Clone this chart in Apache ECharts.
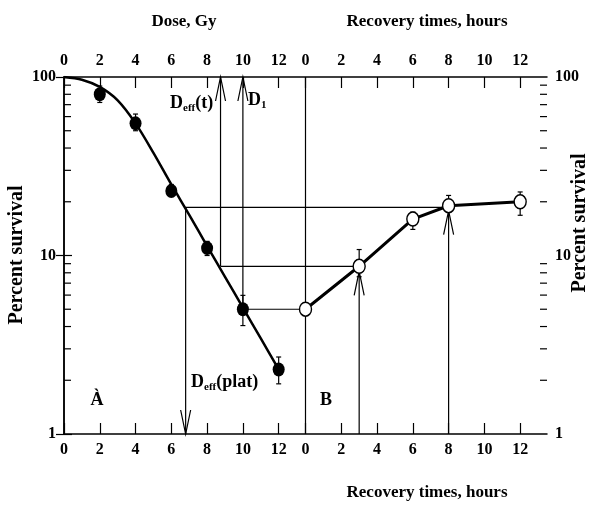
<!DOCTYPE html>
<html>
<head>
<meta charset="utf-8">
<script src="https://cdn.jsdelivr.net/npm/echarts@6/dist/echarts.min.js"></script>
<style>
  html, body { margin: 0; padding: 0; background: #fff; }
  #chart { width: 589px; height: 505px; }
</style>
</head>
<body>
<div id="chart"></div>
<script>
// recovery hour 0 sits at this position on the shared x scale
const REC_OFFSET = 13.5;

const doseGy = [2, 4, 6, 8, 10, 12];
const doseSurvival = [80, 55, 23, 11, 5, 2.3];
const doseErrLow = [72, 50, 21.5, 10, 4.05, 1.91];
const doseErrHigh = [89, 62, 25, 12, 5.98, 2.7];

const recHours = [0, 3, 6, 8, 12];
const recSurvival = [5, 8.7, 16, 19, 20];
const recErrLow = [4.7, 7.6, 14, 17.5, 16.8];
const recErrHigh = [5.3, 10.8, 17.5, 21.7, 22.7];

const fitDose = [0, 1, 2, 3, 4, 5, 6, 7, 8, 9, 10, 11, 12];
const fitSurvival = [100, 96.6, 88, 74, 55, 37.6, 25, 16.9, 11.3, 7.6, 5.1, 3.43, 2.3];

const tickLabels = [0, 2, 4, 6, 8, 10, 12];
const minorTickVals = [2, 3, 4, 5, 6, 7, 8, 9, 20, 30, 40, 50, 60, 70, 80, 90];

// reference levels
const plateauLevel = 18.6;
const tLevel = 8.7;
const deffPlat = 6.8;
const deffT = 8.75;
const d1 = 10;

const FONT = 'Liberation Serif';
const xTicks = tickLabels.concat(tickLabels.map(v => v + REC_OFFSET));
const fmtX = v => (v > 12.5 ? v - REC_OFFSET : v);

// [x1, y1, x2, y2, arrow at end, gap before tip]
const guides = [
    [deffPlat, plateauLevel, REC_OFFSET + 8, plateauLevel, 0, 0],
    [deffPlat, plateauLevel, deffPlat, 1, 1, 0],
    [REC_OFFSET + 8, 1, REC_OFFSET + 8, 19, 1, 5],
    [deffT, tLevel, REC_OFFSET + 3, tLevel, 0, 0],
    [deffT, tLevel, deffT, 100, 1, 0],
    [REC_OFFSET + 3, 1, REC_OFFSET + 3, 8.7, 1, 5],
    [d1, 5, d1, 100, 1, 0],
    [d1, 5, REC_OFFSET, 5, 0, 0],
    [REC_OFFSET, 1, REC_OFFSET, 100, 0, 0]
];

const errData = doseGy.map((d, i) => [d, doseErrLow[i], doseErrHigh[i]])
    .concat(recHours.map((t, i) => [t + REC_OFFSET, recErrLow[i], recErrHigh[i]]));

const minorData = [];
minorTickVals.forEach(v => {
    minorData.push([0, v, 1]);
    minorData.push([27, v, -1]);
});

const labelStyle = {
    color: '#000',
    fontFamily: FONT,
    fontWeight: 'bold',
    fontSize: 16
};

const xAxisBase = {
    type: 'value',
    min: 0,
    max: 27,
    axisLine: { lineStyle: { color: '#000', width: 1.5 } },
    axisTick: { inside: true, length: 11, customValues: xTicks, lineStyle: { color: '#000', width: 1.2 } },
    axisLabel: Object.assign({ customValues: xTicks, formatter: fmtX, margin: 8 }, labelStyle),
    splitLine: { show: false }
};

const yAxisBase = {
    type: 'log',
    logBase: 10,
    min: 1,
    max: 100,
    axisLine: { show: true, lineStyle: { color: '#000', width: 1.5 } },
    axisTick: { inside: true, length: 8, lineStyle: { color: '#000', width: 1.2 } },
    axisLabel: Object.assign({ margin: 8 }, labelStyle),
    splitLine: { show: false }
};

const chart = echarts.init(document.getElementById('chart'), null, { renderer: 'canvas' });

const subText = (x, y, main, sub, tail) => ({
    type: 'text',
    left: x,
    top: y,
    style: {
        text: '{m|' + main + '}' + (sub ? '{s|' + sub + '}' : '') + (tail ? '{m|' + tail + '}' : ''),
        rich: {
            m: { fontFamily: FONT, fontWeight: 'bold', fontSize: 18, fill: '#000' },
            s: { fontFamily: FONT, fontWeight: 'bold', fontSize: 11, fill: '#000', padding: [11, 0, 0, 0] }
        }
    }
});

const plainText = (x, y, text, size, rot) => ({
    type: 'text',
    x: x,
    y: y,
    rotation: rot || 0,
    style: {
        text: text,
        fontFamily: FONT,
        fontWeight: 'bold',
        fontSize: size,
        fill: '#000',
        align: 'center',
        verticalAlign: 'middle'
    }
});

const option = {
    animation: false,
    backgroundColor: '#fff',
    grid: { left: 64, right: 42, top: 77, bottom: 71, containLabel: false, outerBoundsMode: 'none' },
    xAxis: [
        Object.assign({ position: 'bottom' }, xAxisBase),
        Object.assign({ position: 'top' }, xAxisBase)
    ],
    yAxis: [
        Object.assign({ position: 'left' }, yAxisBase),
        Object.assign({ position: 'right' }, yAxisBase)
    ],
    graphic: [
        plainText(184, 22, 'Dose, Gy', 17),
        plainText(427, 22, 'Recovery times, hours', 17),
        plainText(427, 493, 'Recovery times, hours', 17),
        plainText(17, 255, 'Percent survival', 20, Math.PI / 2),
        plainText(580, 223, 'Percent survival', 20, Math.PI / 2),
        plainText(97, 400, 'À', 18),
        plainText(326, 400, 'B', 18),
        subText(170, 94, 'D', 'eff', '(t)'),
        subText(248, 91, 'D', '1', ''),
        subText(191, 373, 'D', 'eff', '(plat)')
    ],
    series: [
        {
            name: 'minor ticks',
            type: 'custom',
            silent: true,
            data: minorData,
            encode: { x: 0, y: 1 },
            renderItem: (params, api) => {
                const p = api.coord([api.value(0), api.value(1)]);
                const dir = api.value(2);
                return {
                    type: 'line',
                    shape: { x1: p[0], y1: p[1], x2: p[0] + dir * 7, y2: p[1] },
                    style: { stroke: '#000', lineWidth: 1.2 }
                };
            }
        },
        {
            name: 'guides',
            type: 'custom',
            silent: true,
            data: guides,
            encode: { x: [0, 2], y: [1, 3] },
            renderItem: (params, api) => {
                const a = api.coord([api.value(0), api.value(1)]);
                const b = api.coord([api.value(2), api.value(3)]);
                const gap = api.value(5);
                const dx = b[0] - a[0], dy = b[1] - a[1];
                const len = Math.hypot(dx, dy) || 1;
                const ux = dx / len, uy = dy / len;
                const tip = [b[0] - ux * gap, b[1] - uy * gap];
                const children = [{
                    type: 'line',
                    shape: { x1: a[0], y1: a[1], x2: tip[0], y2: tip[1] },
                    style: { stroke: '#000', lineWidth: 1.2 }
                }];
                if (api.value(4)) {
                    const L = 24, W = 5;
                    const bx = tip[0] - ux * L, by = tip[1] - uy * L;
                    children.push({
                        type: 'polyline',
                        shape: { points: [[bx - uy * W, by + ux * W], tip, [bx + uy * W, by - ux * W]] },
                        style: { stroke: '#000', fill: null, lineWidth: 1.2 }
                    });
                }
                return { type: 'group', children: children };
            }
        },
        {
            name: 'error bars',
            type: 'custom',
            silent: true,
            data: errData,
            encode: { x: 0, y: [1, 2] },
            renderItem: (params, api) => {
                const lo = api.coord([api.value(0), api.value(1)]);
                const hi = api.coord([api.value(0), api.value(2)]);
                const c = 2.5;
                const st = { stroke: '#000', lineWidth: 1.2 };
                return {
                    type: 'group',
                    children: [
                        { type: 'line', shape: { x1: lo[0], y1: lo[1], x2: hi[0], y2: hi[1] }, style: st },
                        { type: 'line', shape: { x1: lo[0] - c, y1: lo[1], x2: lo[0] + c, y2: lo[1] }, style: st },
                        { type: 'line', shape: { x1: hi[0] - c, y1: hi[1], x2: hi[0] + c, y2: hi[1] }, style: st }
                    ]
                };
            }
        },
        {
            name: 'fit',
            type: 'line',
            smooth: 0.3,
            symbol: 'none',
            lineStyle: { color: '#000', width: 2.5 },
            data: fitDose.map((d, i) => [d, fitSurvival[i]]),
            z: 3
        },
        {
            name: 'recovery',
            type: 'line',
            symbol: 'none',
            lineStyle: { color: '#000', width: 3 },
            data: recHours.map((t, i) => [t + REC_OFFSET, recSurvival[i]]),
            z: 3
        },
        {
            name: 'dose points',
            type: 'scatter',
            symbol: 'circle',
            symbolSize: [12, 14],
            itemStyle: { color: '#000', opacity: 1 },
            data: doseGy.map((d, i) => [d, doseSurvival[i]]),
            z: 4
        },
        {
            name: 'recovery points',
            type: 'scatter',
            symbol: 'circle',
            symbolSize: [12, 14],
            itemStyle: { color: '#fff', borderColor: '#000', borderWidth: 1.5, opacity: 1 },
            data: recHours.map((t, i) => [t + REC_OFFSET, recSurvival[i]]),
            z: 4
        }
    ]
};

option && chart.setOption(option);
</script>
</body>
</html>
